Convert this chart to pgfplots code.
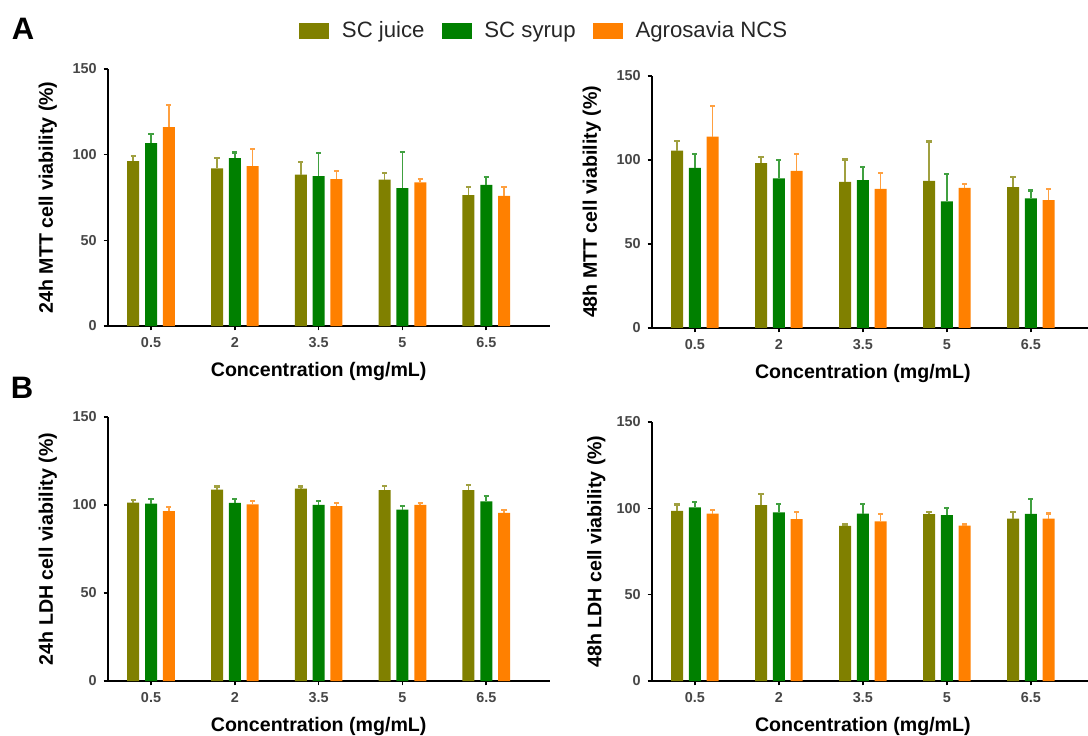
\documentclass[border=0pt]{standalone}
\usepackage{pgfplots}
\pgfplotsset{compat=1.18}
\usepackage{pgfplotstable}
\usepackage{fontspec}
\setmainfont{Liberation Sans}
\definecolor{juice}{RGB}{128,128,0}
\definecolor{syrup}{RGB}{0,128,0}
\definecolor{ncs}{RGB}{255,128,0}
\definecolor{tickgray}{RGB}{70,70,70}

% x: category index (0.5,2,3.5,5,6.5 mg/mL); values = bar height, e = upper error
\pgfplotstableread{
x juice ejuice syrup esyrup ncs encs
0 96.2 3.0 106.8 5.4 116.1 13.1
1 92.0 6.2 98.0 3.3 93.3 10.1
2 88.4 7.5 87.5 13.4 85.7 4.9
3 85.5 3.7 80.5 21.2 83.8 1.9
4 76.4 4.8 82.4 4.7 76.0 5.2
}\mttA
\pgfplotstableread{
x juice ejuice syrup esyrup ncs encs
0 105.6 5.8 95.3 8.5 113.9 18.3
1 98.1 3.5 89.0 11.1 93.5 9.9
2 87.0 13.3 88.0 7.7 82.8 9.5
3 87.6 23.4 75.3 16.2 83.4 2.2
4 83.8 6.0 77.1 4.7 76.1 6.5
}\mttB
\pgfplotstableread{
x juice ejuice syrup esyrup ncs encs
0 101.4 1.3 100.8 2.5 96.5 2.4
1 108.8 1.7 101.2 2.3 100.4 1.9
2 109.3 1.2 100.1 2.0 99.3 1.9
3 108.4 2.6 97.4 1.9 100.1 0.9
4 108.4 3.0 102.1 3.1 95.5 1.5
}\ldhA
\pgfplotstableread{
x juice ejuice syrup esyrup ncs encs
0 98.5 3.7 100.6 3.3 97.0 2.1
1 101.8 6.7 97.7 4.9 93.7 4.2
2 89.8 0.8 97.0 5.6 92.5 4.3
3 96.6 1.3 96.0 4.1 90.0 0.6
4 94.1 4.0 96.8 8.5 94.1 2.9
}\ldhB

\pgfplotsset{
  panel/.style={
    scale only axis,
    ybar,
    ymin=0, ymax=150,
    ytick={0,50,100,150},
    xtick={0,1,2,3,4},
    xticklabels={0.5,2,3.5,5,6.5},
    xmin=-0.513,
    axis x line*=bottom, axis y line*=left,
    axis line style={line width=1pt, black, -},
    tick style={line width=0.8pt, black},
    major tick length=2.2pt,
    tick align=outside,
    bar width=6pt,
    /pgf/number format/assume math mode=true,
    tick label style={font=\fontsize{7.2}{8}\selectfont\bfseries, text=tickgray},
    label style={font=\fontsize{9.8}{11}\selectfont\bfseries},
    xlabel={Concentration (mg/mL)},
    xlabel style={at={(axis cs:2,0)}, anchor=center, yshift=-22.5pt},
    error bars/y dir=plus,
    error bars/y explicit,
  },
  sj/.style={fill=juice, draw=none, bar shift=-8.9pt,
    error bars/.cd, error bar style={color=juice!75!white, line width=0.8pt}, error mark options={rotate=90, color=juice!75!white, line width=1.1pt, mark size=1.3pt}},
  ss/.style={fill=syrup, draw=none, bar shift=0pt,
    error bars/.cd, error bar style={color=syrup!75!white, line width=0.8pt}, error mark options={rotate=90, color=syrup!75!white, line width=1.1pt, mark size=1.3pt}},
  sn/.style={fill=ncs, draw=none, bar shift=8.9pt,
    error bars/.cd, error bar style={color=ncs!75!white, line width=0.8pt}, error mark options={rotate=90, color=ncs!75!white, line width=1.1pt, mark size=1.3pt}},
}

\begin{document}
\begin{tikzpicture}
\path[use as bounding box] (0,0) rectangle (544pt,367.5pt);

% A1
\begin{axis}[panel, at={(54pt,204.5pt)}, anchor=south west,
  width=221pt, height=128.5pt, xmax=4.76,
  ylabel={24h MTT cell viability (\%)},
  ylabel style={at={(axis description cs:-0.136,0.5)}, anchor=center},
  legend columns=3,
  legend style={draw=none, fill=none, at={(axis description cs:0.418,1.148)}, anchor=west,
    font=\fontsize{11.1}{13}\selectfont, text=black!85,
    /tikz/every odd column/.append style={column sep=4.5pt},
    /tikz/every even column/.append style={column sep=6.5pt}},
  legend entries={SC juice, SC syrup, Agrosavia NCS},
]
\addlegendimage{legend image code/.code={\fill[juice] (0pt,-3.6pt) rectangle (14.5pt,3.6pt);}}
\addlegendimage{legend image code/.code={\fill[syrup] (0pt,-3.6pt) rectangle (14.5pt,3.6pt);}}
\addlegendimage{legend image code/.code={\fill[ncs] (0pt,-3.6pt) rectangle (14.5pt,3.6pt);}}
\addplot[sj] table[x=x, y=juice, y error=ejuice] {\mttA};
\addplot[ss] table[x=x, y=syrup, y error=esyrup] {\mttA};
\addplot[sn] table[x=x, y=ncs, y error=encs] {\mttA};
\end{axis}

% A2
\begin{axis}[panel, at={(326pt,203.5pt)}, anchor=south west,
  width=218pt, height=126pt, xmin=-0.51, xmax=4.68,
  ylabel={48h MTT cell viability (\%)},
  ylabel style={at={(axis description cs:-0.138,0.5)}, anchor=center},
]
\addplot[sj] table[x=x, y=juice, y error=ejuice] {\mttB};
\addplot[ss] table[x=x, y=syrup, y error=esyrup] {\mttB};
\addplot[sn] table[x=x, y=ncs, y error=encs] {\mttB};
\end{axis}

% B1
\begin{axis}[panel, at={(54pt,27pt)}, anchor=south west,
  width=221pt, height=132pt, xmax=4.76,
  ylabel={24h LDH cell viability (\%)},
  ylabel style={at={(axis description cs:-0.136,0.5)}, anchor=center},
]
\addplot[sj] table[x=x, y=juice, y error=ejuice] {\ldhA};
\addplot[ss] table[x=x, y=syrup, y error=esyrup] {\ldhA};
\addplot[sn] table[x=x, y=ncs, y error=encs] {\ldhA};
\end{axis}

% B2
\begin{axis}[panel, at={(326pt,27pt)}, anchor=south west,
  width=218pt, height=129.5pt, xmin=-0.51, xmax=4.68,
  ylabel={48h LDH cell viability (\%)},
  ylabel style={at={(axis description cs:-0.128,0.5)}, anchor=center},
]
\addplot[sj] table[x=x, y=juice, y error=ejuice] {\ldhB};
\addplot[ss] table[x=x, y=syrup, y error=esyrup] {\ldhB};
\addplot[sn] table[x=x, y=ncs, y error=encs] {\ldhB};
\end{axis}

\node[font=\fontsize{15.5}{18}\selectfont\bfseries] at (11.5pt,353pt) {A};
\node[font=\fontsize{15.5}{18}\selectfont\bfseries] at (11pt,173.75pt) {B};
\end{tikzpicture}
\end{document}
